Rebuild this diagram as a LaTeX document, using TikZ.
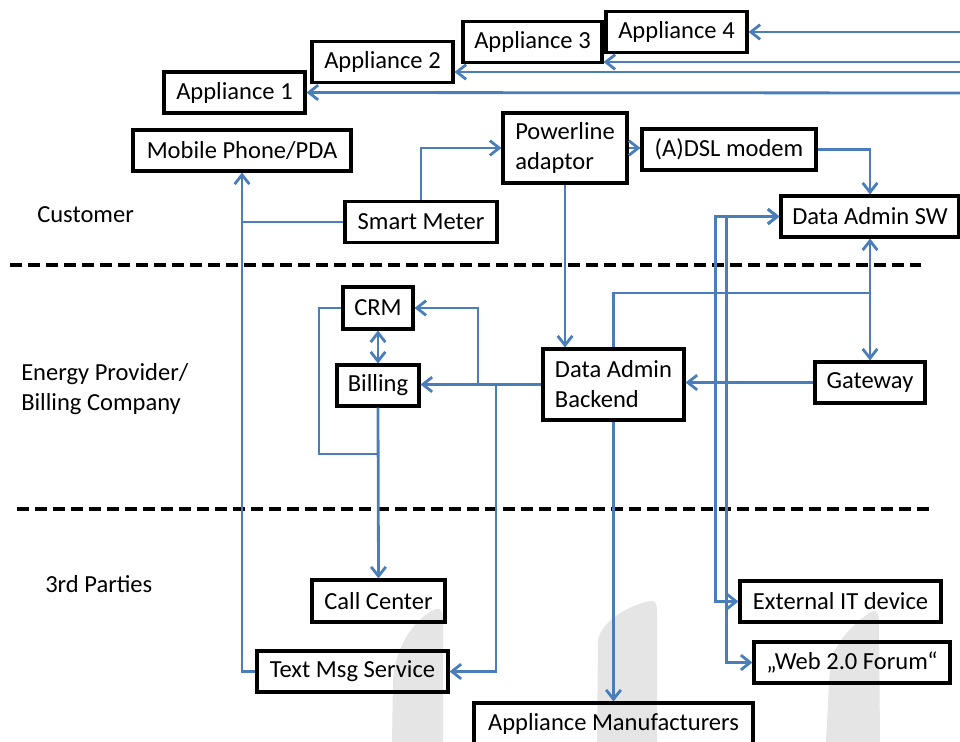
\documentclass[tikz,border=0pt]{standalone}
\usepackage{fontspec}
\setmainfont{Carlito}
\usetikzlibrary{arrows.meta}
\definecolor{linkblue}{RGB}{74,126,187}

\begin{document}
\begin{tikzpicture}[x=0.75pt,y=-0.75pt,font=\fontsize{18.4}{22.5}\selectfont]
    \useasboundingbox (0,0) rectangle (960,742);

    % grey marks in the background
    \begin{scope}[fill=black!10]
      \fill (392,742) -- (393,680) .. controls (396,640) and (420,615) .. (436,609)
        .. controls (441,608) and (443,612) .. (443,618) -- (443,742) -- cycle;
      \fill (597,742) -- (598,640) .. controls (602,620) and (630,605) .. (650,601)
        .. controls (655,600) and (657,604) .. (657,610) -- (657,742) -- cycle;
      \fill (826,742) -- (830,665) .. controls (835,640) and (858,620) .. (871,612)
        .. controls (876,609) and (879,613) .. (879,620) -- (880,742) -- cycle;
    \end{scope}

    % zones
    \node[anchor=base west,inner sep=0pt] (customer) at (37,222) {Customer};
    \node[anchor=west,inner sep=0pt,align=left] (provider) at (21,389) {Energy Provider/\\Billing Company};
    \node[anchor=base west,inner sep=0pt] (parties) at (45,592) {3rd Parties};
    \draw[line width=3pt,dash pattern=on 9pt off 4.5pt] (10,265) -- (921,265);
    \draw[line width=3pt,dash pattern=on 9pt off 4.5pt] (17,509) -- (930,509);

    \begin{scope}[every node/.style={draw,line width=2.3pt,minimum height=30.75pt,inner sep=2pt}]
      \node[minimum width=105.75pt] (app1) at (234.5,92.5) {Appliance 1};
      \node[minimum width=105.75pt] (app2) at (382.5,62) {Appliance 2};
      \node[minimum width=104.25pt] (app3) at (532.5,42) {Appliance 3};
      \node[minimum width=105.75pt] (app4) at (676.5,32) {Appliance 4};
      \node[minimum width=163.5pt] (mobile) at (242,150.5) {Mobile Phone/PDA};
      \node[minimum width=114pt] (meter) at (421,222) {Smart Meter};
      \node[minimum width=93pt,minimum height=52.5pt,align=left] (plc) at (565,148) {Powerline\\adaptor};
      \node[minimum width=130.5pt] (dsl) at (729,149.5) {(A)DSL modem};
      \node[minimum width=133.5pt] (dasw) at (870,216.5) {Data Admin SW};
      \node[minimum width=52.5pt,minimum height=31.5pt] (crm) at (378,308) {CRM};
      \node[minimum width=61.5pt] (billing) at (378,385.5) {Billing};
      \node[minimum width=105.75pt,minimum height=53.25pt,align=left] (backend) at (613.5,384.5) {Data Admin\\Backend};
      \node[minimum width=82.5pt] (gateway) at (870,382.5) {Gateway};
      \node[minimum width=99.75pt,minimum height=31.5pt] (callc) at (378.5,601) {Call Center};
      \node[minimum width=143.25pt] (textmsg) at (352.5,671.5) {Text Msg Service};
      \node[minimum width=150.75pt] (extit) at (840.5,601.5) {External IT device};
      \node[minimum width=147pt] (forum) at (852,662.5) {„Web 2.0 Forum“};
      \node[minimum width=209.25pt] (maker) at (613.5,723.5) {Appliance Manufacturers};
    \end{scope}

    \coordinate (r1) at (960,93);
    \coordinate (r2) at (960,72);
    \coordinate (r3) at (960,62);
    \coordinate (r4) at (960,32);
    \coordinate (j1) at (870,293);
    \coordinate (j2) at (478,384.5);
    \coordinate (j3) at (496,384.5);
    \coordinate (j4) at (319,454);

    \begin{scope}[>={Straight Barb[length=7pt,width=11pt]},linkblue,line width=2.1pt]
      \draw[->] (r4) -- (app4.east);
      \draw[->] (r3) -- (r3 -| app3.east);
      \draw[->] (r2) -- (r2 -| app2.east);
      \draw[->] (r1) -- (app1.east);
      \draw[->] (textmsg.west) -| (mobile.south);
      \draw (meter.west) -- (meter.west -| mobile.south);
      \draw[->] (meter.north) |- (plc.west);
      \draw[->] (plc.east) -- (plc.east -| dsl.west);
      \draw[->] (dsl.east) -| (dasw.north);
      \draw[<->] (dasw.south) -- (gateway.north);
      \draw (backend.north) |- (j1);
      \draw[->] (plc.south) -- (plc.south |- backend.north);
      \draw[->] (gateway.west) -- (gateway.west -| backend.east);
      \draw[->] (backend.west) -- (backend.west -| billing.east);
      \draw[->] (j2) |- (crm.east);
      \draw[->] (j3) |- (textmsg.east);
      \draw[<->] (crm.south) -- (billing.north);
      \draw[->] (billing.south) -- (callc.north);
      \draw (crm.west) -| (j4) -- (j4 -| billing.south);
      \draw[->] (backend.south) -- (maker.north);
      \draw[<->] (dasw.west) -- ++(-64,0) |- (extit.west);
      \draw[<->] (dasw.west) -- ++(-53,0) |- (forum.west);
    \end{scope}
  \end{tikzpicture}
\end{document}
